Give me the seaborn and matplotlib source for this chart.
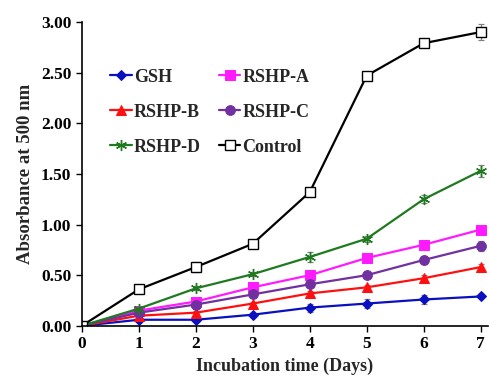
import numpy as np
import pandas as pd
import seaborn as sns
import matplotlib.pyplot as plt

# Absorbance at 500 nm over incubation time
days = [0, 1, 2, 3, 4, 5, 6, 7]
gsh = [0.00, 0.06, 0.06, 0.11, 0.18, 0.22, 0.26, 0.29]
rshp_a = [0.00, 0.15, 0.24, 0.38, 0.50, 0.67, 0.80, 0.95]
rshp_b = [0.00, 0.10, 0.13, 0.22, 0.32, 0.38, 0.47, 0.58]
rshp_c = [0.00, 0.13, 0.21, 0.31, 0.41, 0.50, 0.65, 0.79]
rshp_d = [0.00, 0.17, 0.37, 0.51, 0.68, 0.86, 1.25, 1.53]
control = [0.00, 0.36, 0.58, 0.81, 1.32, 2.47, 2.79, 2.90]

gsh_err = [0.00, 0.02, 0.02, 0.02, 0.04, 0.04, 0.04, 0.02]
rshp_a_err = [0.00, 0.02, 0.02, 0.02, 0.02, 0.02, 0.04, 0.03]
rshp_b_err = [0.00, 0.02, 0.02, 0.02, 0.02, 0.02, 0.03, 0.03]
rshp_c_err = [0.00, 0.02, 0.02, 0.02, 0.02, 0.02, 0.04, 0.05]
rshp_d_err = [0.00, 0.02, 0.02, 0.02, 0.05, 0.03, 0.04, 0.06]
control_err = [0.00, 0.02, 0.05, 0.02, 0.03, 0.04, 0.02, 0.08]

names = ["GSH", "RSHP-A", "RSHP-B", "RSHP-C", "RSHP-D", "Control"]
values = [gsh, rshp_a, rshp_b, rshp_c, rshp_d, control]
errors = [gsh_err, rshp_a_err, rshp_b_err, rshp_c_err, rshp_d_err, control_err]

colors = {"GSH": "#0a10c0", "RSHP-A": "#ff1aff", "RSHP-B": "#ff1010",
          "RSHP-C": "#7030a0", "RSHP-D": "#1f7a1f", "Control": "#000000"}
markers = {"GSH": "D", "RSHP-A": "s", "RSHP-B": "^", "RSHP-C": "o",
           "RSHP-D": "o", "Control": "s"}
sizes = {"GSH": 5, "RSHP-A": 7, "RSHP-B": 7, "RSHP-C": 7, "RSHP-D": 8, "Control": 7}

df = pd.DataFrame({
    "day": days * len(names),
    "value": sum(values, []),
    "err": sum(errors, []),
    "group": [n for n in names for _ in days],
})

sns.set_style("ticks")
plt.rcParams["font.family"] = ["Liberation Serif", "DejaVu Serif"]
plt.rcParams["font.weight"] = "bold"

fig = plt.figure(figsize=(4.9, 3.78), dpi=100)
ax = fig.add_axes([0.167, 0.138, 0.828, 0.804])

sns.lineplot(data=df, x="day", y="value", hue="group", style="group",
             palette=colors, markers=markers, dashes=False, linewidth=1.6,
             legend=False, ax=ax)

for name in names:
    sub = df[df["group"] == name]
    ax.errorbar(sub["day"], sub["value"], yerr=sub["err"], fmt="none",
                ecolor="#808080", elinewidth=0.9, capsize=2.5, capthick=0.9, zorder=1)

# marker styling per line (seaborn draws them in hue order)
for line, name in zip(ax.lines[:len(names)], names):
    line.set_markersize(sizes[name])
    line.set_markeredgecolor(colors[name])
    if name == "Control":
        line.set_markerfacecolor("white")
        line.set_markeredgewidth(1.0)
    elif name == "RSHP-D":
        line.set_marker((6, 2, 0))
        line.set_markeredgewidth(1.0)

ax.set_xlim(0, 7.12)
ax.set_ylim(0, 3.0)
ax.set_xticks(days)
ax.set_yticks([0, 0.5, 1.0, 1.5, 2.0, 2.5, 3.0])
ax.set_yticklabels([f"{v:.2f}" for v in ax.get_yticks()])
ax.tick_params(axis="both", labelsize=12.5, width=1.0, length=4, colors="black")
for lbl in ax.get_xticklabels() + ax.get_yticklabels():
    lbl.set_fontweight("bold")
ax.set_xlabel("Incubation time (Days)", fontsize=13, fontweight="bold", labelpad=4)
ax.set_ylabel("Absorbance at 500 nm", fontsize=13.5, fontweight="bold", labelpad=5)
sns.despine(ax=ax)
for s in ["left", "bottom"]:
    ax.spines[s].set_linewidth(1.2)
    ax.spines[s].set_color("black")

# legend laid out row-wise: GSH/RSHP-A, RSHP-B/RSHP-C, RSHP-D/Control
lines = {n: l for n, l in zip(names, ax.lines[:len(names)])}
order = ["GSH", "RSHP-B", "RSHP-D", "RSHP-A", "RSHP-C", "Control"]
ax.legend([lines[n] for n in order], order, ncol=2, frameon=False,
          loc="upper left", bbox_to_anchor=(0.03, 0.9),
          prop={"size": 13, "weight": "bold"}, handlelength=1.2,
          handletextpad=0.1, columnspacing=1.0, labelspacing=1.0)

fig.savefig("out.png", dpi=100)
